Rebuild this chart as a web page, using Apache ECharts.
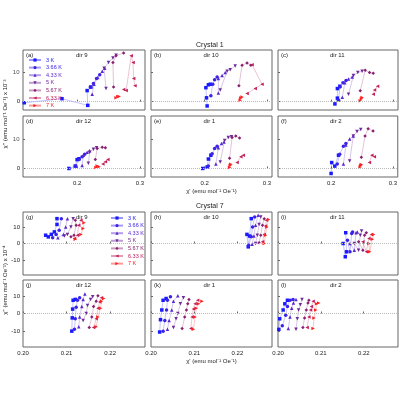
<!DOCTYPE html><html><head><meta charset="utf-8"><script src="https://cdn.jsdelivr.net/npm/echarts@6/dist/echarts.min.js"></script></head><body style="margin:0"><div id="c" style="width:400px;height:400px"></div><script>
const temps=['3 K','3.66 K','4.33 K','5 K','5.67 K','6.33 K','7 K'];
const colors=['#1a1aff','#3a22e8','#5a28d0','#6e2a9a','#8a2072','#c22058','#ff2020'];
const panelLabels=['(a)','(b)','(c)','(d)','(e)','(f)','(g)','(h)','(i)','(j)','(k)','(l)'];
const dirs=['dir 9','dir 10','dir 11','dir 12','dir 1','dir 2','dir 9','dir 10','dir 11','dir 12','dir 1','dir 2'];
const c1XTicks=[0.2,0.3], c7XTicks=[0.20,0.21,0.22];
const c1YTicks=[0,10], c7YTicks=[-10,0,10];
const pa=[[[0.116,-0.4],[0.176,1],[0.217,-1.3],[0.216,3.8],[0.222,5]],[[0.221,5],[0.226,6.2],[0.231,8],[0.236,9.3]],[[0.224,2.5],[0.227,6],[0.233,8.3],[0.24,10.5],[0.244,11.5]],[[0.246,4.5],[0.243,11.5],[0.25,13.5],[0.257,15],[0.262,16]],[[0.258,5],[0.257,13.5],[0.262,15.8],[0.274,16.8]],[[0.274,4.2],[0.278,3.8],[0.286,15.8],[0.289,13.5],[0.29,8],[0.292,5.5]],[[0.262,1.3],[0.265,1.8],[0.267,1.8]]];
const pb=[[[0.204,-1.5],[0.203,1.3],[0.202,4.8],[0.206,5.8],[0.209,6]],[[0.21,2],[0.213,6],[0.216,7.5],[0.22,8.5]],[[0.222,3],[0.222,8],[0.228,9],[0.233,10]],[[0.225,4],[0.236,10.5],[0.241,11],[0.249,12.3]],[[0.255,5.5],[0.26,12.5],[0.268,13.3],[0.274,12.5]],[[0.268,2.8],[0.281,4.5],[0.292,6],[0.276,12.7]],[[0.257,0.5],[0.258,1.2],[0.26,1.6]]];
const pc=[[[0.206,-0.8],[0.21,1.2],[0.21,4.5],[0.214,5.3]],[[0.212,0.5],[0.214,5],[0.219,6.5],[0.224,7.3]],[[0.218,1.5],[0.222,6.5],[0.228,7.8],[0.234,8.5]],[[0.228,2.5],[0.236,9],[0.243,10],[0.25,10.5]],[[0.247,3.7],[0.255,10.8],[0.262,10],[0.268,9.8]],[[0.268,2.5],[0.27,4],[0.275,5.3]],[[0.247,0.3],[0.249,1],[0.25,1.4]]];
const pd=[[[0.187,0],[0.197,0.8],[0.2,3],[0.203,3.3]],[[0.198,0.8],[0.203,3],[0.208,4],[0.212,4.8]],[[0.208,1],[0.21,4.5],[0.216,5.5],[0.22,6]],[[0.218,1.8],[0.22,5.5],[0.226,6.5],[0.231,7]],[[0.229,3],[0.232,6.8],[0.24,7.2],[0.245,7]],[[0.241,1.5],[0.245,2.3],[0.249,3]],[[0.23,0.3],[0.232,0.8],[0.235,0.6]]];
const pe=[[[0.197,0],[0.204,0.5],[0.206,3.2],[0.21,4.5]],[[0.206,0.8],[0.212,5],[0.216,6.8],[0.22,7.5]],[[0.218,1.5],[0.222,7],[0.227,8.5],[0.231,9]],[[0.225,2.2],[0.232,9.5],[0.238,10.5],[0.243,10.8]],[[0.24,3.5],[0.244,10.5],[0.25,11],[0.256,10.3]],[[0.252,2],[0.258,4],[0.262,4.5]],[[0.24,0.3],[0.241,1],[0.242,1.4]]];
const pf=[[[0.2,-1.7],[0.201,2],[0.206,0.8],[0.212,4.5]],[[0.21,1.5],[0.214,4.8],[0.22,7.5],[0.224,8.5]],[[0.22,1.5],[0.224,8],[0.23,10],[0.236,11]],[[0.23,2.5],[0.236,11],[0.242,12.5],[0.248,13.2]],[[0.249,3.8],[0.255,11],[0.26,13.5],[0.268,12.7]],[[0.262,2],[0.266,4.5],[0.27,4]],[[0.247,0.5],[0.248,1],[0.249,1.3]]];
const pg=[[[0.2052,5],[0.2058,4],[0.2065,5.5],[0.2072,7],[0.2078,11.5],[0.2078,15]],[[0.2068,3.5],[0.2076,5.5],[0.2083,8],[0.2088,15]],[[0.208,3.5],[0.2093,5.5],[0.2098,10],[0.2102,15]],[[0.2095,4.5],[0.2102,5.5],[0.211,10],[0.2115,15]],[[0.211,4],[0.2117,5],[0.2122,11],[0.212,14]],[[0.2118,3],[0.2125,5],[0.2128,11],[0.2133,14]],[[0.212,2.5],[0.2133,5.5],[0.2138,9],[0.214,12.5]]];
const ph=[[[0.2222,5.5],[0.2225,-2],[0.2228,4.5],[0.2232,15]],[[0.2226,-1],[0.2232,4],[0.2235,10],[0.224,16]],[[0.2234,-0.5],[0.2238,4.5],[0.2242,11],[0.2248,17]],[[0.2242,0],[0.2246,5],[0.225,11.5],[0.2254,16]],[[0.225,0.5],[0.2254,5],[0.2258,11],[0.2262,15]],[[0.2258,1],[0.2262,5.5],[0.2265,10.5],[0.2267,14]],[[0.2262,0],[0.2265,5],[0.2268,10],[0.2272,14.5]]];
const pi=[[[0.2152,0],[0.2157,-8],[0.216,-5],[0.2158,6.5]],[[0.2162,2],[0.2168,-5],[0.2172,6],[0.2174,7]],[[0.2168,0],[0.2178,-4],[0.2182,6.5],[0.2185,7]],[[0.2178,0],[0.2188,-4],[0.2192,5],[0.2195,7.5]],[[0.2188,1],[0.2198,-4],[0.2202,5],[0.2206,6.5]],[[0.2198,1],[0.2206,-5],[0.2212,3],[0.2218,5.5]],[[0.2212,0],[0.2214,-5],[0.222,2.5],[0.2223,5.5]]];
const pj=[[[0.2112,-10],[0.2113,-2.5],[0.2114,2.5],[0.2115,7.5],[0.212,8]],[[0.2118,-9],[0.212,-3],[0.2122,3.5],[0.2125,7.5],[0.213,9]],[[0.2128,-7.5],[0.213,-2],[0.2135,4],[0.2138,8],[0.2142,11]],[[0.2138,-4],[0.2145,0],[0.2148,4.5],[0.2155,8],[0.216,9.5]],[[0.2152,-8],[0.2158,-2],[0.2162,4],[0.2168,7],[0.2172,10]],[[0.2162,-8],[0.2168,-3],[0.2172,3],[0.2176,6.5],[0.218,9]],[[0.2168,-7.5],[0.2172,-2],[0.2178,3],[0.218,7],[0.2185,8.5]]];
const pk=[[[0.202,-10.5],[0.2022,-3.5],[0.2025,2],[0.2028,7.5],[0.2035,8.5]],[[0.2028,-10],[0.2032,-4],[0.2036,2],[0.2038,7.5],[0.2045,9.5]],[[0.2038,-9],[0.2042,-4],[0.2048,2],[0.2052,7],[0.2062,10]],[[0.2052,-8],[0.2058,-3],[0.2062,0],[0.2068,5.5],[0.2075,9]],[[0.2072,-8.5],[0.2078,-2],[0.2082,2],[0.2085,5.5],[0.2088,8]],[[0.2092,-8.5],[0.2095,-2],[0.2098,2.5],[0.2102,5.5],[0.2108,7.5]],[[0.2098,-9],[0.2102,-2],[0.2105,3],[0.211,5.5],[0.2118,7]]];
const pl=[[[0.2002,-9],[0.2004,-3],[0.2012,2],[0.2016,5.5],[0.2022,7.5]],[[0.201,-7],[0.2018,-1],[0.2022,4],[0.2028,7.5],[0.2035,8]],[[0.2024,-8.5],[0.2028,-2],[0.2032,3],[0.2036,6],[0.2042,8]],[[0.2042,-9],[0.2045,-3],[0.2048,2],[0.2052,5],[0.2056,8]],[[0.2058,-8],[0.2062,-2.5],[0.2066,2],[0.207,6],[0.2072,7.5]],[[0.2068,-8],[0.2072,-2],[0.2076,2],[0.2078,4],[0.2082,7]],[[0.2082,-8.5],[0.2084,-2.5],[0.2088,2],[0.209,5.5],[0.2095,6]]];
const panels=[pa,pb,pc,pd,pe,pf,pg,ph,pi,pj,pk,pl];
const symbols=['rect','circle','triangle','triangle','diamond','triangle','triangle'];
const rots=[0,0,0,180,0,90,-90];
const lefts=[23,151,278], widths=[122,121,120];
const tops=[50,116,212,280], heights=[60,61,63,67];
const grid=[],xAxis=[],yAxis=[],series=[],graphic=[];
const fs=6, tc='#222', bc='#666';
for(let p=0;p<12;p++){
  const r=Math.floor(p/3), c=p%3, c7=p>=6;
  const xmin=c7?0.2:0.114;
  grid.push({left:lefts[c],top:tops[r],width:widths[c],height:heights[r],show:true,borderColor:bc,borderWidth:1,containLabel:false});
  const bottomRow=(r===1||r===3);
  const xt=c7?c7XTicks:c1XTicks, yt=c7?c7YTicks:c1YTicks;
  xAxis.push({type:'value',gridIndex:p,min:xmin,max:c7?0.228:0.308,
    axisLine:{show:false},axisTick:{show:true,length:2,inside:true,lineStyle:{color:bc},customValues:xt},splitLine:{show:false},
    axisLabel:{show:bottomRow,fontSize:fs,color:tc,margin:3,customValues:xt,hideOverlap:false,formatter:v=>c7?v.toFixed(2):v.toFixed(1)},
    name:(p===4||p===10)?"χ' (emu mol⁻¹ Oe⁻¹)":'',nameLocation:'middle',nameGap:11,nameTextStyle:{fontSize:fs,color:tc}});
  yAxis.push({type:'value',gridIndex:p,min:c7?-19:-2.9,max:c7?19:17.8,axisLine:{show:false},splitLine:{show:false},
    axisTick:{show:true,length:2,inside:true,lineStyle:{color:bc},customValues:yt},
    axisLabel:{show:c===0,fontSize:fs,color:tc,margin:3,hideOverlap:false,customValues:c7?yt:[0]}});
  panels[p].forEach((d,t)=>{
    const s={type:'line',name:temps[t],xAxisIndex:p,yAxisIndex:p,data:d,symbol:symbols[t],symbolRotate:rots[t],symbolSize:3.5,
      itemStyle:{color:colors[t]},lineStyle:{color:colors[t],width:0.6,opacity:0.45},animation:false,z:3};
    if(t===0)s.markLine={silent:true,symbol:'none',label:{show:false},lineStyle:{color:'#bbb',type:'dotted',width:1},data:[{yAxis:0}]};
    series.push(s);
  });
  if(!c7&&c===0){
    series.push({type:'scatter',name:'ylab'+p,xAxisIndex:p,yAxisIndex:p,data:[[xmin,c1YTicks[1]]],symbolSize:1,
      itemStyle:{color:'rgba(0,0,0,0)'},clip:false,silent:true,animation:false,
      label:{show:true,position:'left',distance:3,formatter:String(c1YTicks[1]),fontSize:fs,color:tc}});
  }
  graphic.push({type:'text',left:lefts[c]+3,top:tops[r]+2,style:{text:panelLabels[p],fontSize:fs,fill:tc}});
  graphic.push({type:'text',left:lefts[c]+widths[c]/2-8,top:tops[r]+2,style:{text:dirs[p],fontSize:fs,fill:tc}});
}
graphic.push({type:'text',left:196,top:42,style:{text:'Crystal 1',fontSize:7,fill:tc}});
graphic.push({type:'text',left:196,top:203,style:{text:'Crystal 7',fontSize:7,fill:tc}});
graphic.push({type:'text',x:5,y:114,rotation:Math.PI/2,style:{text:"χ'' (emu mol⁻¹ Oe⁻¹) x 10⁻³",fontSize:fs,fill:tc,align:'center',verticalAlign:'middle'}});
graphic.push({type:'text',x:5,y:280,rotation:Math.PI/2,style:{text:"χ'' (emu mol⁻¹ Oe⁻¹) x 10⁻⁴",fontSize:fs,fill:tc,align:'center',verticalAlign:'middle'}});
const legItems=temps.map((n,i)=>({name:n,textStyle:{color:colors[i]}}));
const leg=(l,t)=>({left:l,top:t,orient:'vertical',itemWidth:12,itemHeight:4,itemGap:1.6,data:legItems,textStyle:{fontSize:5.5},padding:0,selectedMode:false});
const chart=echarts.init(document.getElementById('c'),null,{renderer:'canvas'});
chart.setOption({animation:false,grid,xAxis,yAxis,series,graphic,legend:[leg(28,57),leg(110,215)]});
</script></body></html>
